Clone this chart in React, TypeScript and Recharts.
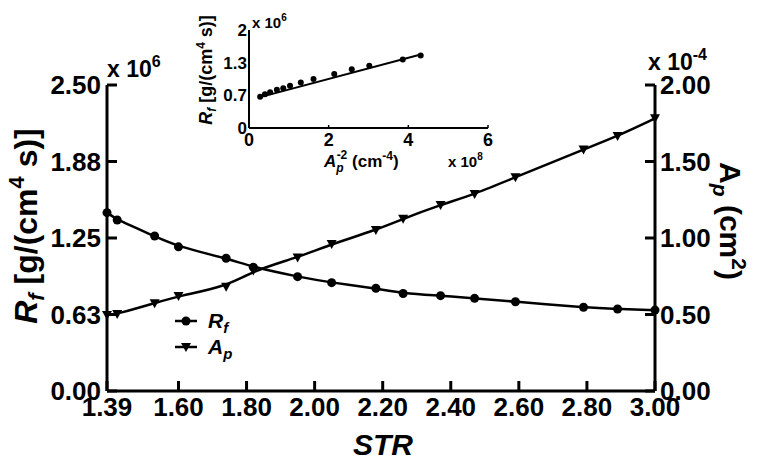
import React from 'react';
import { LineChart, Line, XAxis, YAxis } from 'recharts';

// STR values (x axis)
const strValues = [1.39, 1.42, 1.53, 1.6, 1.74, 1.82, 1.95, 2.05, 2.18, 2.26, 2.37, 2.47, 2.59, 2.79, 2.89, 3.0];
// Rf in units of 10^6 g/(cm^4 s)
const rfValues = [1.457, 1.397, 1.266, 1.178, 1.085, 1.011, 0.934, 0.885, 0.839, 0.797, 0.779, 0.757, 0.729, 0.684, 0.67, 0.661];
// Ap in units of 10^-4 cm^2
const apValues = [0.497, 0.503, 0.574, 0.621, 0.682, 0.787, 0.873, 0.96, 1.052, 1.126, 1.216, 1.287, 1.397, 1.579, 1.666, 1.782];

const strTicks = [1.39, 1.6, 1.8, 2.0, 2.2, 2.4, 2.6, 2.8, 3.0];
const rfTicks = [0, 0.625, 1.25, 1.875, 2.5];
const apTicks = [0, 0.5, 1, 1.5, 2];

// inset: Rf vs Ap^-2 (x 10^8 cm^-4)
const insetX = [0.28, 0.4, 0.53, 0.7, 0.86, 1.03, 1.3, 1.62, 2.14, 2.58, 3.02, 3.86, 4.31];
const insetRf = [0.64, 0.69, 0.73, 0.78, 0.81, 0.86, 0.93, 1.0, 1.1, 1.2, 1.27, 1.4, 1.48];
const fitX = [0.28, 4.31];
const fitRf = [0.63, 1.5];
const insetXTicks = [0, 2, 4, 6];
const insetYTicks = [0, 0.667, 1.333, 2];

const FONT = '"Liberation Sans", Arial, sans-serif';

const mainData = strValues.map((s, i) => ({ str: s, rf: rfValues[i], ap: apValues[i] }));
const insetData = insetX.map((x, i) => ({ x, rf: insetRf[i] }));
const fitData = fitX.map((x, i) => ({ x, rf: fitRf[i] }));

const LeftTick = ({ x, y, payload }: any) => (
  <g>
    <line x1={x} x2={x + 10} y1={y} y2={y} stroke="#000" strokeWidth={3} />
    <text x={x - 6} y={y} dy="0.36em" textAnchor="end" fontSize={26} fontWeight="bold" fontFamily={FONT} fill="#000">
      {payload.value.toFixed(2)}
    </text>
  </g>
);

const RightTick = ({ x, y, payload }: any) => (
  <g>
    <line x1={x} x2={x - 10} y1={y} y2={y} stroke="#000" strokeWidth={3} />
    <text x={x + 5} y={y} dy="0.36em" textAnchor="start" fontSize={26} fontWeight="bold" fontFamily={FONT} fill="#000">
      {payload.value.toFixed(2)}
    </text>
  </g>
);

const BottomTick = ({ x, y, payload }: any) => (
  <g>
    <line x1={x} x2={x} y1={y} y2={y - 10} stroke="#000" strokeWidth={3} />
    <text x={x} y={y + 25} textAnchor="middle" fontSize={26} fontWeight="bold" fontFamily={FONT} fill="#000">
      {payload.value.toFixed(2)}
    </text>
  </g>
);

const InsetLeftTick = ({ x, y, payload }: any) => {
  const v = payload.value;
  const label = v === 0 || v === 2 ? String(v) : v.toFixed(1);
  return (
    <text x={x - 2} y={y} dy="0.36em" textAnchor="end" fontSize={17} fontWeight="bold" fontFamily={FONT} fill="#000">
      {label}
    </text>
  );
};

const InsetBottomTick = ({ x, y, payload }: any) => (
  <g>
    <line x1={x} x2={x} y1={y} y2={y - 3} stroke="#000" strokeWidth={1.5} />
    <text x={x} y={y + 18} textAnchor="middle" fontSize={18} fontWeight="bold" fontFamily={FONT} fill="#000">
      {payload.value}
    </text>
  </g>
);

const CircleDot = ({ cx, cy }: any) => <circle cx={cx} cy={cy} r={4.5} fill="#000" stroke="none" />;
const SmallDot = ({ cx, cy }: any) => <circle cx={cx} cy={cy} r={3} fill="#000" stroke="none" />;
const TriDot = ({ cx, cy }: any) => (
  <polygon points={`${cx - 5},${cy - 4} ${cx + 5},${cy - 4} ${cx},${cy + 5}`} fill="#000" />
);

export default function App() {
  return (
    <div style={{ position: 'relative', width: 761, height: 467, background: '#fff' }}>
      <style>{'body{margin:0}'}</style>
      <LineChart width={761} height={467} data={mainData} margin={{ top: 85, right: 0, bottom: 0, left: 0 }}>
        <XAxis
          type="number"
          dataKey="str"
          domain={[1.39, 3]}
          ticks={strTicks}
          height={76}
          tickSize={0}
          tickMargin={0}
          tickLine={false}
          axisLine={{ stroke: '#000', strokeWidth: 3 }}
          tick={(p: any) => <BottomTick {...p} />}
          interval={0}
        />
        <YAxis
          yAxisId="rf"
          orientation="left"
          domain={[0, 2.5]}
          ticks={rfTicks}
          width={107}
          tickSize={0}
          tickMargin={0}
          tickLine={false}
          axisLine={{ stroke: '#000', strokeWidth: 3 }}
          tick={(p: any) => <LeftTick {...p} />}
          interval={0}
        />
        <YAxis
          yAxisId="ap"
          orientation="right"
          domain={[0, 2]}
          ticks={apTicks}
          width={106}
          tickSize={0}
          tickMargin={0}
          tickLine={false}
          axisLine={{ stroke: '#000', strokeWidth: 3 }}
          tick={(p: any) => <RightTick {...p} />}
          interval={0}
        />
        <Line
          yAxisId="rf"
          dataKey="rf"
          type="basis"
          stroke="#000"
          strokeWidth={2.5}
          dot={(p: any) => <CircleDot key={`rf-${p.index}`} {...p} />}
          isAnimationActive={false}
        />
        <Line
          yAxisId="ap"
          dataKey="ap"
          type="basis"
          stroke="#000"
          strokeWidth={2.5}
          dot={(p: any) => <TriDot key={`ap-${p.index}`} {...p} />}
          isAnimationActive={false}
        />
      </LineChart>

      <div style={{ position: 'absolute', left: 190, top: 10 }}>
        <LineChart width={310} height={170} margin={{ top: 20, right: 12, bottom: 0, left: 0 }}>
          <XAxis
            type="number"
            dataKey="x"
            domain={[0, 6]}
            ticks={insetXTicks}
            height={52}
            tickSize={0}
            tickMargin={0}
            tickLine={false}
            axisLine={{ stroke: '#000', strokeWidth: 2 }}
            tick={(p: any) => <InsetBottomTick {...p} />}
            interval={0}
          />
          <YAxis
            type="number"
            domain={[0, 2]}
            ticks={insetYTicks}
            width={59}
            tickSize={0}
            tickMargin={0}
            tickLine={false}
            axisLine={{ stroke: '#000', strokeWidth: 2 }}
            tick={(p: any) => <InsetLeftTick {...p} />}
            interval={0}
          />
          <Line
            data={fitData}
            dataKey="rf"
            type="linear"
            stroke="#000"
            strokeWidth={2}
            dot={false}
            isAnimationActive={false}
          />
          <Line
            data={insetData}
            dataKey="rf"
            type="linear"
            stroke="none"
            dot={(p: any) => <SmallDot key={`in-${p.index}`} {...p} />}
            isAnimationActive={false}
          />
        </LineChart>
      </div>

      <svg
        width={761}
        height={467}
        style={{ position: 'absolute', left: 0, top: 0, pointerEvents: 'none' }}
        fontFamily={FONT}
        fontWeight="bold"
        fill="#000"
      >
        {/* main axis titles */}
        <text transform="translate(37,226) rotate(-90)" textAnchor="middle" fontSize={32}>
          <tspan fontStyle="italic">R</tspan>
          <tspan fontStyle="italic" fontSize={22} dy={7}>f</tspan>
          <tspan dy={-7}> [g/(cm</tspan>
          <tspan fontSize={22} dy={-13}>4</tspan>
          <tspan dy={13}>  s)]</tspan>
        </text>
        <text transform="translate(720,221) rotate(90)" textAnchor="middle" fontSize={30}>
          <tspan>A</tspan>
          <tspan fontStyle="italic" fontSize={21} dy={7}>p</tspan>
          <tspan dy={-7}> (cm</tspan>
          <tspan fontSize={21} dy={-12}>2</tspan>
          <tspan dy={12}>)</tspan>
        </text>
        <text x={107} y={77} fontSize={23}>
          x 10<tspan fontSize={16} dy={-10}>6</tspan>
        </text>
        <text x={648} y={70} fontSize={23}>
          x 10<tspan fontSize={16} dy={-10}>-4</tspan>
        </text>
        <text x={383} y={455} textAnchor="middle" fontSize={30} fontStyle="italic">
          STR
        </text>

        {/* legend */}
        <line x1={175} x2={197} y1={321} y2={321} stroke="#000" strokeWidth={2.5} />
        <circle cx={186} cy={321} r={4.5} />
        <text x={208} y={328} fontSize={21} fontStyle="italic">
          R<tspan fontSize={15} dy={5}>f</tspan>
        </text>
        <line x1={175} x2={197} y1={347} y2={347} stroke="#000" strokeWidth={2.5} />
        <polygon points="181,343 191,343 186,352" />
        <text x={208} y={354} fontSize={21} fontStyle="italic">
          A<tspan fontSize={15} dy={5}>p</tspan>
        </text>

        {/* inset titles */}
        <text x={252} y={28} fontSize={15}>
          x 10<tspan fontSize={10} dy={-7}>6</tspan>
        </text>
        <text transform="translate(212,70) rotate(-90)" textAnchor="middle" fontSize={18}>
          <tspan fontStyle="italic">R</tspan>
          <tspan fontStyle="italic" fontSize={12} dy={4}>f</tspan>
          <tspan dy={-4}> [g/(cm</tspan>
          <tspan fontSize={12} dy={-7}>4</tspan>
          <tspan dy={7}> s)]</tspan>
        </text>
        <text x={324} y={167} fontSize={17}>
          <tspan fontStyle="italic">A</tspan>
          <tspan fontStyle="italic" fontSize={12} dy={5}>p</tspan>
          <tspan fontSize={12} dx={-7} dy={-13}>-2</tspan>
          <tspan dy={8}> (cm</tspan>
          <tspan fontSize={12} dy={-7}>-4</tspan>
          <tspan dy={7}>)</tspan>
        </text>
        <text x={448} y={167} fontSize={15}>
          x 10<tspan fontSize={10} dy={-7}>8</tspan>
        </text>
      </svg>
    </div>
  );
}
